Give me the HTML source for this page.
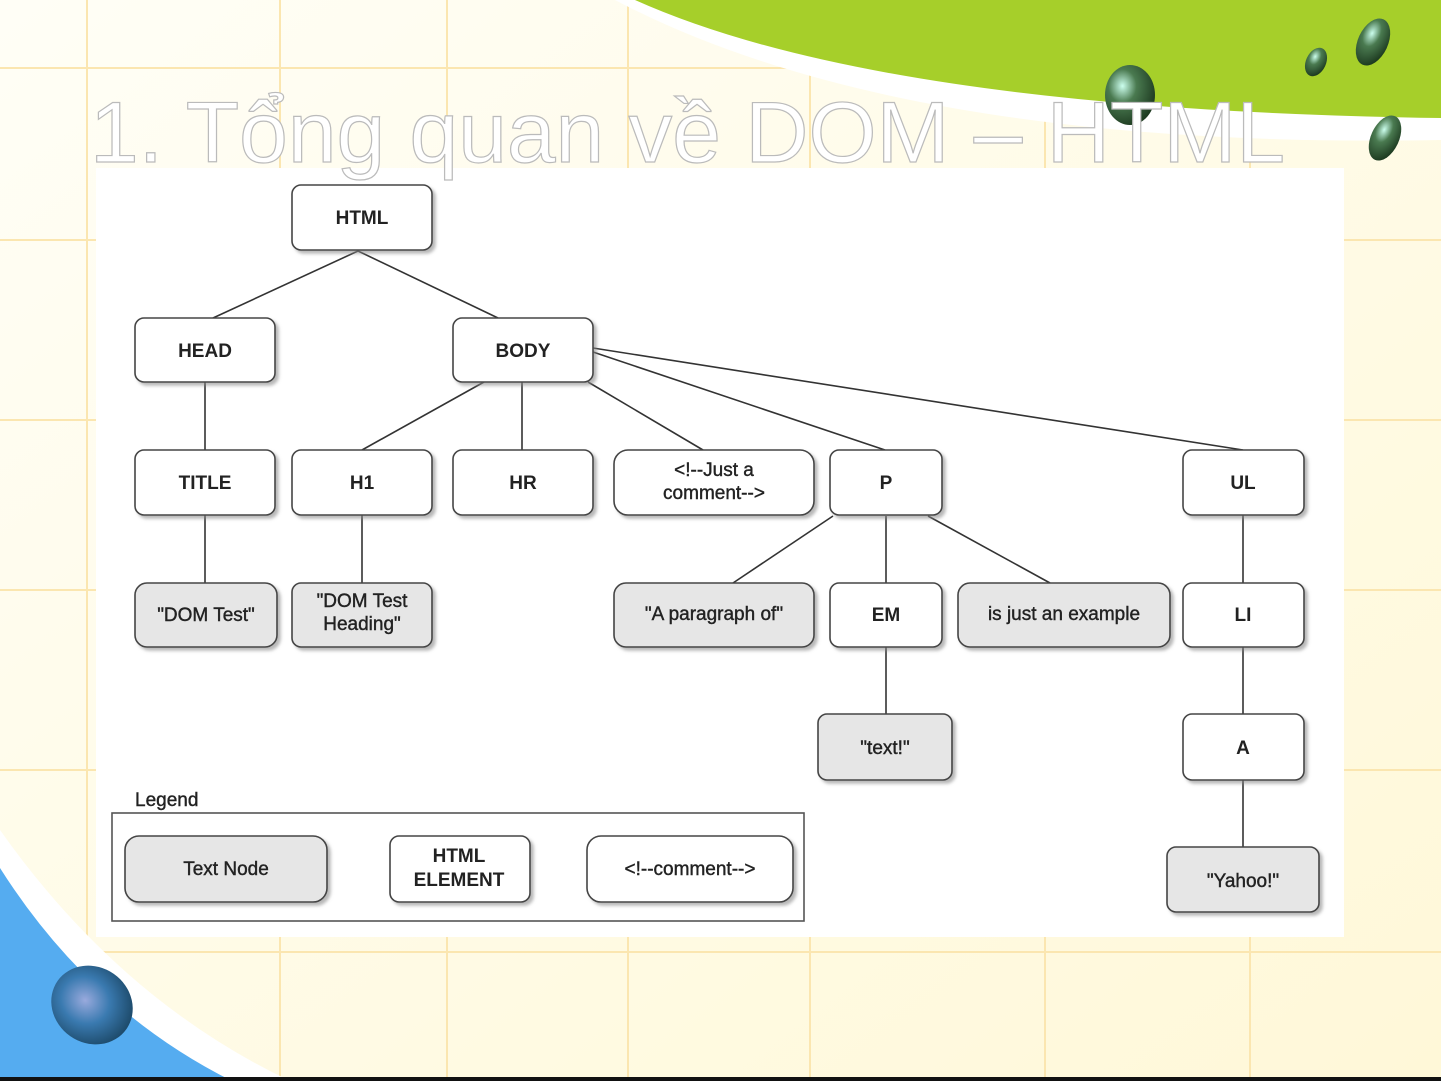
<!DOCTYPE html>
<html><head><meta charset="utf-8"><style>
html,body{margin:0;padding:0}
body{width:1441px;height:1081px;overflow:hidden;background:#fffbe8;position:relative;font-family:"Liberation Sans",sans-serif}
svg{position:absolute;left:0;top:0}
.t{font-family:"Liberation Sans",sans-serif;font-weight:bold;font-size:19px;fill:#222;text-anchor:middle}
.n{font-family:"Liberation Sans",sans-serif;font-size:19px;fill:#222;text-anchor:middle;stroke:#222;stroke-width:0.4}
</style></head><body>
<svg width="1441" height="1081" viewBox="0 0 1441 1081">
<defs>
<linearGradient id="bg" x1="0" y1="0" x2="1" y2="1"><stop offset="0" stop-color="#fffef6"/><stop offset="1" stop-color="#fff8d8"/></linearGradient>
<filter id="sh" x="-10%" y="-10%" width="130%" height="130%"><feDropShadow dx="3" dy="3" stdDeviation="1.5" flood-color="#888" flood-opacity="0.6"/></filter>
<radialGradient id="drop" cx="0.35" cy="0.35" r="0.7"><stop offset="0" stop-color="#cfe" /><stop offset="0.4" stop-color="#4a7a50"/><stop offset="1" stop-color="#1d3a20"/></radialGradient>
<radialGradient id="bdrop" cx="0.4" cy="0.5" r="0.6"><stop offset="0" stop-color="#9ad"/><stop offset="0.5" stop-color="#3a7ab0"/><stop offset="1" stop-color="#1d4a6a"/></radialGradient>
</defs>
<rect width="1441" height="1081" fill="url(#bg)"/>
<g stroke="#fbe6b0" stroke-width="2">
<line x1="87" y1="0" x2="87" y2="1081"/><line x1="280" y1="0" x2="280" y2="1081"/><line x1="447" y1="0" x2="447" y2="1081"/><line x1="628" y1="0" x2="628" y2="1081"/><line x1="810" y1="0" x2="810" y2="1081"/><line x1="1045" y1="0" x2="1045" y2="1081"/><line x1="1250" y1="0" x2="1250" y2="1081"/>
<line x1="0" y1="68" x2="1441" y2="68"/><line x1="0" y1="240" x2="1441" y2="240"/><line x1="0" y1="420" x2="1441" y2="420"/><line x1="0" y1="590" x2="1441" y2="590"/><line x1="0" y1="770" x2="1441" y2="770"/><line x1="0" y1="952" x2="1441" y2="952"/>
</g>
<path d="M615 0 Q900 150 1441 140 L1441 0 Z" fill="#ffffff"/>
<path d="M635 0 Q880 110 1441 118 L1441 0 Z" fill="#a6cf2a"/>
<path d="M0 830 Q120 1000 290 1081 L0 1081 Z" fill="#ffffff"/>
<path d="M0 868 Q90 1010 232 1081 L0 1081 Z" fill="#55acf0"/>
<ellipse cx="92" cy="1005" rx="42" ry="38" fill="url(#bdrop)" transform="rotate(35 92 1005)"/>
<ellipse cx="1130" cy="95" rx="25" ry="30" fill="url(#drop)"/>
<ellipse cx="1373" cy="42" rx="15" ry="25" fill="url(#drop)" transform="rotate(25 1373 42)"/>
<ellipse cx="1316" cy="62" rx="10" ry="15" fill="url(#drop)" transform="rotate(25 1316 62)"/>
<ellipse cx="1385" cy="138" rx="14" ry="24" fill="url(#drop)" transform="rotate(25 1385 138)"/>
<rect x="0" y="1077" width="1441" height="4" fill="#111"/>
<rect x="96" y="168" width="1248" height="769" fill="#fff"/>
<text x="90" y="162" font-family="Liberation Sans,sans-serif" font-size="86" fill="#fff" stroke="#bbb" stroke-width="1.2" textLength="1195" lengthAdjust="spacingAndGlyphs">1. Tổng quan về DOM – HTML</text>
<g stroke="#333" stroke-width="1.6" fill="none">
<line x1="358" y1="251" x2="213" y2="318"/><line x1="358" y1="251" x2="498" y2="318"/>
<line x1="205" y1="382" x2="205" y2="450"/><line x1="205" y1="515" x2="205" y2="583"/>
<line x1="484" y1="382" x2="362" y2="450"/><line x1="522" y1="382" x2="522" y2="450"/><line x1="588" y1="382" x2="703" y2="450"/>
<line x1="593" y1="352" x2="885" y2="450"/><line x1="593" y1="348" x2="1243" y2="450"/>
<line x1="362" y1="515" x2="362" y2="583"/>
<line x1="833" y1="516" x2="733" y2="583"/><line x1="886" y1="516" x2="886" y2="583"/><line x1="928" y1="516" x2="1050" y2="583"/>
<line x1="886" y1="647" x2="886" y2="714"/>
<line x1="1243" y1="515" x2="1243" y2="583"/><line x1="1243" y1="647" x2="1243" y2="714"/><line x1="1243" y1="780" x2="1243" y2="847"/>
</g>
<g stroke="#444" stroke-width="1.6" filter="url(#sh)">
<rect x="292" y="185" width="140" height="65" rx="9" fill="#fff"/>
<rect x="135" y="318" width="140" height="64" rx="9" fill="#fff"/>
<rect x="453" y="318" width="140" height="64" rx="9" fill="#fff"/>
<rect x="135" y="450" width="140" height="65" rx="9" fill="#fff"/>
<rect x="292" y="450" width="140" height="65" rx="9" fill="#fff"/>
<rect x="453" y="450" width="140" height="65" rx="9" fill="#fff"/>
<rect x="614" y="450" width="200" height="65" rx="14" fill="#fff"/>
<rect x="830" y="450" width="112" height="65" rx="9" fill="#fff"/>
<rect x="1183" y="450" width="121" height="65" rx="9" fill="#fff"/>
<rect x="135" y="583" width="142" height="64" rx="12" fill="#e6e6e6"/>
<rect x="292" y="583" width="140" height="64" rx="9" fill="#e6e6e6"/>
<rect x="614" y="583" width="200" height="64" rx="12" fill="#e6e6e6"/>
<rect x="830" y="583" width="112" height="64" rx="9" fill="#fff"/>
<rect x="958" y="583" width="212" height="64" rx="12" fill="#e6e6e6"/>
<rect x="1183" y="583" width="121" height="64" rx="9" fill="#fff"/>
<rect x="818" y="714" width="134" height="66" rx="9" fill="#e6e6e6"/>
<rect x="1183" y="714" width="121" height="66" rx="9" fill="#fff"/>
<rect x="1167" y="847" width="152" height="65" rx="9" fill="#e6e6e6"/>
<rect x="125" y="836" width="202" height="66" rx="14" fill="#e6e6e6"/>
<rect x="390" y="836" width="140" height="66" rx="9" fill="#fff"/>
<rect x="587" y="836" width="206" height="66" rx="14" fill="#fff"/>
</g>
<rect x="112" y="813" width="692" height="108" fill="none" stroke="#555" stroke-width="1.6"/>
<text class="t" x="362" y="224">HTML</text>
<text class="t" x="205" y="357">HEAD</text>
<text class="t" x="523" y="357">BODY</text>
<text class="t" x="205" y="489">TITLE</text>
<text class="t" x="362" y="489">H1</text>
<text class="t" x="523" y="489">HR</text>
<text class="n" x="714" y="476">&lt;!--Just a</text>
<text class="n" x="714" y="499">comment--&gt;</text>
<text class="t" x="886" y="489">P</text>
<text class="t" x="1243" y="489">UL</text>
<text class="n" x="206" y="621">"DOM Test"</text>
<text class="n" x="362" y="607">"DOM Test</text>
<text class="n" x="362" y="630">Heading"</text>
<text class="n" x="714" y="620">"A paragraph of"</text>
<text class="t" x="886" y="621">EM</text>
<text class="n" x="1064" y="620">is just an example</text>
<text class="t" x="1243" y="621">LI</text>
<text class="n" x="885" y="754">"text!"</text>
<text class="t" x="1243" y="754">A</text>
<text class="n" x="1243" y="887">"Yahoo!"</text>
<text x="135" y="806" font-family="Liberation Sans,sans-serif" font-size="19" fill="#222" stroke="#222" stroke-width="0.4">Legend</text>
<text class="n" x="226" y="875">Text Node</text>
<text class="t" x="459" y="862">HTML</text>
<text class="t" x="459" y="886">ELEMENT</text>
<text class="n" x="690" y="875">&lt;!--comment--&gt;</text>
</svg>
</body></html>
